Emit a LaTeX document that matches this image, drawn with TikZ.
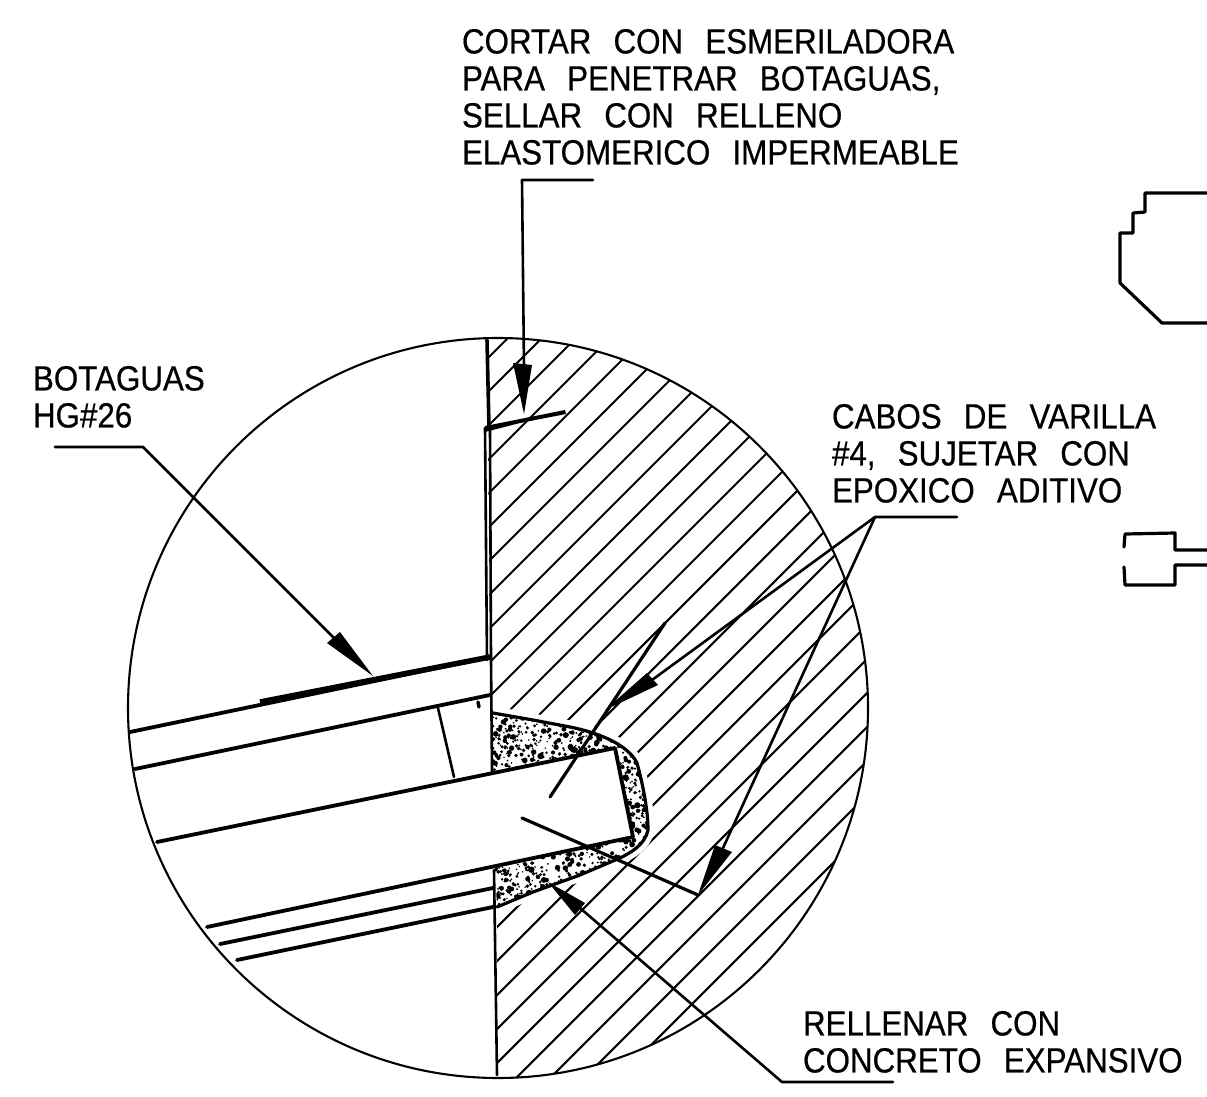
\documentclass[tikz,border=0pt]{standalone}
\usepackage{fontspec}
\setmainfont{Liberation Sans}
\newfontfamily\lblfont[WordSpace=2.55,FakeStretch=0.895,FakeBold=0.5]{Liberation Sans}
\begin{document}
\begin{tikzpicture}[x=1pt,y=-1pt,line cap=round,line join=round,
  thin line/.style={line width=2.6pt},
  med line/.style={line width=3.2pt},
  heavy line/.style={line width=3.8pt},
  hatch line/.style={line width=2.1pt},
  tip fill/.style={fill=black,draw=none},
  label text/.style={anchor=north west,inner sep=0pt,outer sep=0pt,align=left,
    font=\lblfont\fontsize{35}{37}\selectfont}]
\useasboundingbox (0,0) rectangle (1207,1097);
\fill[white] (0,0) rectangle (1207,1097);
% hatching on the right half of the circle
\begin{scope}
  \clip (498,708) circle[radius=370];
  \clip (487,330) -- (490,660) -- (492,713) -- (533,720) -- (570,727)
     .. controls (600,733) and (628,745) .. (637,763)
     .. controls (643,785) and (648,810) .. (648,830)
     .. controls (645,845) and (630,853) .. (620,858)
     -- (580,875) -- (533,892) -- (497,907) -- (497,1090) -- (900,1090) -- (900,330) -- cycle;
  \foreach \k in {-14,...,26}{
    \pgfmathsetmacro{\hc}{948+34*\k}
    \draw[hatch line] (450,\hc-450) -- (900,\hc-900);
  }
  % clear band round the pocket
  \draw[white,line width=13pt] (500,714) -- (533,720) -- (570,727)
     .. controls (600,733) and (628,745) .. (637,763)
     .. controls (643,785) and (648,810) .. (648,830)
     .. controls (645,845) and (630,853) .. (620,858)
     -- (580,875) -- (533,892) -- (505,904);
\end{scope}
% stippled concrete
\begin{scope}
  \clip (493,713) -- (533,720) -- (570,727)
     .. controls (600,733) and (628,745) .. (637,763)
     .. controls (643,785) and (648,810) .. (648,830)
     .. controls (645,845) and (630,853) .. (620,858)
     -- (580,875) -- (533,892) -- (497,907) -- (495,868) -- (633,837) -- (615,748) -- (493,772) -- cycle;
  \pgfmathsetseed{4217}
  \foreach \i in {1,...,1900}{
    \pgfmathsetmacro{\px}{490+rnd*160}
    \pgfmathsetmacro{\py}{710+rnd*200}
    \pgfmathsetmacro{\pr}{0.8+rnd*rnd*2.8}
    \fill[black] (\px,\py) circle[radius=\pr];
  }
\end{scope}
% circle
\draw[line width=2.1pt] (498,708) circle[radius=370];
% wall
\draw[line width=3.6pt] (487,340) -- (489,428);
\draw[thin line] (485,428) -- (487,660);
\draw[thin line] (490,428) -- (491,660) -- (492,772);
\draw[thin line] (494,870) -- (497,1075);
% cut mark
\fill[black] (485,426) -- (565,410) -- (566,414) -- (520,423) -- (485,432) -- cycle;
% pocket outline
\draw[med line] (493,713) -- (533,720) -- (570,727)
     .. controls (600,733) and (628,745) .. (637,763)
     .. controls (643,785) and (648,810) .. (648,830)
     .. controls (645,845) and (630,853) .. (620,858)
     -- (580,875) -- (533,892) -- (497,907);
% panel lines
\draw[heavy line] (130,732) -- (490,657);
\draw[line width=5.5pt,line cap=butt] (260,702) -- (490,657);
\draw[heavy line] (135,769) -- (490,695);
\draw[heavy line] (157,842) -- (615,748) -- (633,837);
\draw[thin line] (438,708) -- (454,777);
\draw[line width=3.5pt] (478,702) -- (479,707);
\draw[heavy line] (207,927) -- (633,837);
\draw[heavy line] (220,944) -- (493,888);
\draw[heavy line] (237,960) -- (493,907);
% bars
\draw[med line] (550,797) -- (665,623);
\draw[med line] (522,818) -- (698,895);
% leaders
\coordinate (topbar) at (522,180);
\coordinate (botbar) at (143,447);
\coordinate (cabbar) at (875,517);
\coordinate (relbar) at (782,1082);
\draw[thin line] (593,180) -- (topbar) -- (524,368);
\fill[tip fill] (513,363) -- (532,365) -- (524,414) -- cycle;
\draw[thin line] (55,447) -- (botbar) -- (334,638);
\fill[tip fill] (327,643) -- (340,632) -- (373,676) -- cycle;
\draw[thin line] (957,517) -- (cabbar) -- (652,680);
\draw[thin line] (cabbar) -- (723,848);
\fill[tip fill] (647,673) -- (658,685) -- (605,710) -- cycle;
\fill[tip fill] (715,845) -- (732,852) -- (698,895) -- cycle;
\draw[thin line] (893,1082) -- (relbar) -- (580,908);
\fill[tip fill] (585,903) -- (575,915) -- (548,882) -- cycle;
% right details
\draw[med line] (1207,193) -- (1145,193) -- (1145,212) -- (1133,213) -- (1133,233) -- (1120,233) -- (1120,283) -- (1162,323) -- (1207,323);
\draw[med line] (1124,547) -- (1125,534) -- (1175,533) -- (1175,550) -- (1207,550);
\draw[med line] (1207,565) -- (1175,565) -- (1175,585) -- (1125,585) -- (1124,567);
% labels
\node[label text] (cortar) at (462,29) {CORTAR CON ESMERILADORA\\PARA PENETRAR BOTAGUAS,\\SELLAR CON RELLENO\\ELASTOMERICO IMPERMEABLE};
\node[label text] (botaguas) at (33,366) {BOTAGUAS\\HG\#26};
\node[label text] (cabos) at (832,404) {CABOS DE VARILLA\\\#4, SUJETAR CON\\EPOXICO ADITIVO};
\node[label text] (rellenar) at (803,1011) {RELLENAR CON\\CONCRETO EXPANSIVO};
\end{tikzpicture}
\end{document}
